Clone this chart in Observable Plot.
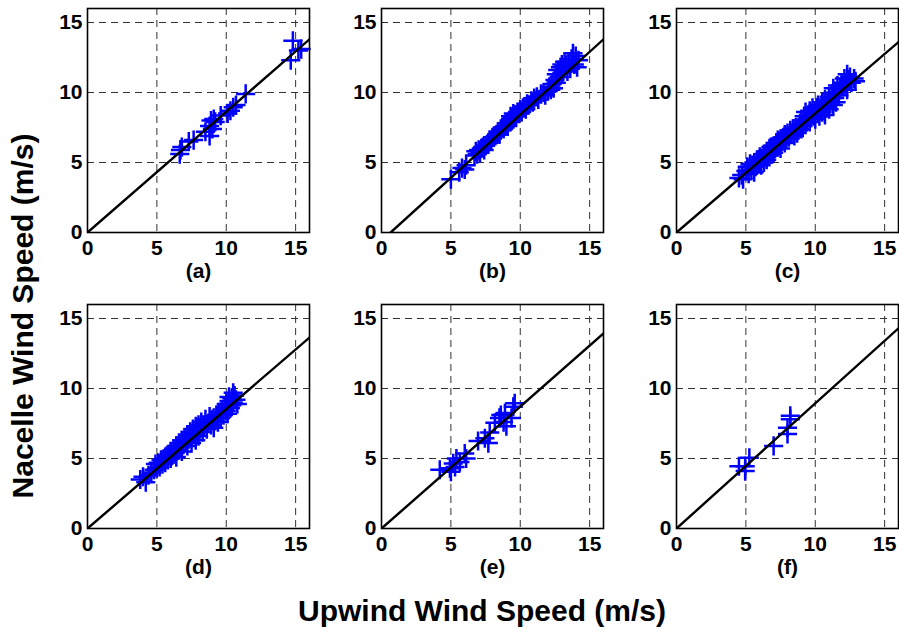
<!DOCTYPE html>
<html>
<head>
<meta charset="utf-8">
<script src="https://cdn.jsdelivr.net/npm/d3@7"></script>
<script src="https://cdn.jsdelivr.net/npm/@observablehq/plot@0.6"></script>
<style>
  html, body { margin: 0; padding: 0; background: #fff; overflow: hidden; }
  #wrap { position: relative; width: 899px; height: 632px; background: #fff; font-family: "Liberation Sans", Arial, sans-serif; }
  .panel { position: absolute; }
  #wrap svg text { font-weight: bold; font-family: "Liberation Sans", Arial, sans-serif; fill: #000; }
  .title { position: absolute; font-weight: bold; font-size: 30px; line-height: 30px; white-space: nowrap; color: #000; }
</style>
</head>
<body>
<div id="wrap"></div>
<script>
// ---- data ----
const panelLabels = ["(a)", "(b)", "(c)", "(d)", "(e)", "(f)"];
const axisTicks = [0, 5, 10, 15];
const gridTicks = [5, 10, 15];
const xTitle = "Upwind Wind Speed (m/s)";
const yTitle = "Nacelle Wind Speed (m/s)";

const pointsA = [[14.8,13.7],[14.65,12.3],[15.2,13.0],[15.4,13.1],[11.4,9.9],[10.5,8.95],[10.3,8.7],[10.1,8.5],
  [9.6,8.35],[9.1,8.1],[8.9,8.0],[8.8,7.6],[8.5,7.2],[8.8,6.9],[9.0,7.4],[7.65,6.6],[7.3,6.5],[6.8,6.1],[6.65,5.6],[6.7,5.9],[9.2,7.9],[10.7,9.1]];

const pointsB = [[5.0,3.8],[5.6,4.3],[5.8,4.6],[6.0,4.5],[6.1,4.8],[6.7,5.5],[6.8,5.8],[6.9,5.6],[7.0,5.9],[7.1,5.7],
  [7.2,6.0],[7.3,6.1],[7.4,5.9],[7.5,6.2],[7.7,6.4],[7.8,6.6],[7.9,6.5],[8.0,6.8],[8.2,6.9],[8.3,7.0],[8.4,7.2],[8.5,7.0],
  [8.6,7.3],[8.7,7.5],[8.8,7.4],[8.9,7.6],[9.0,7.8],[9.1,7.6],[9.2,8.0],[9.3,7.9],[9.4,8.2],[9.5,8.1],[9.6,8.4],[9.7,8.3],
  [9.8,8.6],[9.9,8.5],[10.0,8.8],[10.1,8.6],[10.2,8.9],[10.3,9.0],[10.4,8.8],[10.5,9.2],[10.6,9.1],[10.8,9.4],[10.9,9.3],
  [11.0,9.6],[11.2,9.7],[11.3,9.5],[11.5,9.9],[11.7,10.0],[11.8,9.8],[12.0,10.1],[12.1,10.4],[12.2,10.2],[12.3,10.6],
  [12.4,10.3],[12.5,10.9],[12.6,11.3],[12.6,10.7],[12.7,11.6],[12.8,11.1],[12.9,11.8],[13.0,11.4],[13.0,12.0],[13.1,11.6],
  [13.2,12.2],[13.3,11.9],[13.4,11.5],[13.5,12.1],[13.6,11.7],[13.7,12.4],[13.8,12.8],[13.9,12.0],[14.0,12.6],[14.1,11.8],
  [14.2,12.3],[9.5,8.5],[9.3,8.3]];

const pointsC = [[4.5,3.9],[4.7,4.1],[4.8,3.8],[5.0,4.4],[5.1,4.7],[5.2,4.2],[5.3,4.9],[5.4,4.5],[5.5,4.8],[5.6,4.3],[5.6,5.0],
  [5.7,4.7],[5.8,5.2],[5.9,4.9],[6.0,5.1],[6.0,5.4],[6.1,4.8],[6.2,5.3],[6.3,5.6],[6.3,5.0],[6.4,5.4],[6.5,5.8],[6.5,5.2],
  [6.6,5.5],[6.7,5.9],[6.8,5.6],[6.8,6.1],[6.9,5.8],[7.0,6.2],[7.0,5.7],[7.1,6.0],[7.2,6.4],[7.3,6.1],[7.3,6.6],[7.4,6.3],
  [7.5,6.7],[7.5,6.0],[7.6,6.5],[7.7,6.8],[7.8,6.4],[7.8,7.0],[7.9,6.7],[8.0,7.1],[8.1,6.8],[8.2,7.3],[8.3,7.0],[8.4,7.4],
  [8.5,6.9],[8.5,7.2],[8.6,7.5],[8.7,7.1],[8.8,7.3],[8.9,7.7],[9.0,7.4],[9.0,8.0],[9.1,7.6],[9.2,8.3],[9.3,7.8],[9.3,8.6],
  [9.4,8.1],[9.5,8.4],[9.6,7.9],[9.6,8.7],[9.7,8.2],[9.8,8.5],[9.8,8.9],[9.9,8.3],[10.0,8.7],[10.0,8.1],[10.1,8.9],[10.2,8.5],
  [10.2,9.1],[10.3,8.3],[10.4,8.8],[10.5,9.3],[10.5,8.6],[10.6,9.0],[10.7,8.4],[10.7,9.5],[10.8,8.9],[10.9,9.2],[11.0,9.7],
  [11.0,8.8],[11.1,9.4],[11.2,9.9],[11.3,9.1],[11.3,10.3],[11.4,9.6],[11.5,10.0],[11.5,9.3],[11.6,10.5],[11.7,9.8],[11.8,10.2],
  [11.9,10.7],[12.0,10.4],[12.1,11.0],[12.2,10.6],[12.3,11.3],[12.4,10.9],[12.5,11.1],[12.6,10.7],[12.8,11.0],[12.9,10.8],[12.3,10.2]];

const pointsD = [[3.8,3.5],[4.0,3.7],[4.2,3.3],[4.4,3.8],[4.6,4.0],[4.8,4.2],[4.9,4.6],[5.0,4.3],[5.1,4.7],[5.2,4.4],[5.3,4.9],
  [5.4,4.6],[5.5,5.0],[5.6,4.7],[5.7,5.2],[5.8,4.9],[5.9,5.3],[6.0,5.0],[6.0,5.5],[6.1,5.2],[6.2,5.7],[6.3,5.4],[6.4,5.9],
  [6.4,5.1],[6.5,5.6],[6.6,6.1],[6.7,5.8],[6.8,6.3],[6.8,5.5],[6.9,6.0],[7.0,6.5],[7.1,6.2],[7.2,5.9],[7.2,6.7],[7.3,6.4],
  [7.4,6.9],[7.5,6.1],[7.5,6.6],[7.6,7.1],[7.7,6.8],[7.8,6.3],[7.8,7.3],[7.9,6.9],[8.0,6.6],[8.0,7.4],[8.1,7.1],[8.2,7.6],
  [8.3,6.9],[8.4,7.3],[8.5,7.8],[8.6,7.1],[8.7,7.5],[8.8,8.0],[8.9,7.4],[9.0,7.8],[9.1,7.2],[9.2,7.7],[9.3,8.1],[9.4,7.6],
  [9.5,8.3],[9.6,7.9],[9.7,8.5],[9.8,8.1],[9.9,8.7],[10.0,8.4],[10.0,8.9],[10.1,8.2],[10.2,9.1],[10.3,8.6],[10.4,9.3],
  [10.4,8.8],[10.5,9.0],[10.6,9.5],[10.7,9.2],[10.8,8.9],[10.2,9.4],[10.5,9.7]];

const pointsE = [[4.2,4.2],[4.93,4.3],[5.17,4.65],[5.4,5.0],[5.0,4.05],[6.0,5.35],[6.1,5.0],[5.65,4.75],[6.96,6.25],[7.45,6.45],
  [7.7,6.1],[7.8,6.85],[8.17,7.55],[8.5,7.9],[8.9,8.25],[8.8,7.6],[9.0,7.3],[9.37,7.9],[9.6,8.95],[9.5,8.7],[5.3,4.4],[8.6,8.1]];

const pointsF = [[4.5,4.45],[4.95,4.45],[4.95,4.1],[5.25,5.05],[7.0,5.9],[8.0,6.75],[8.0,7.2],[8.2,7.8],[8.2,8.05]];

// fitted lines: start and end points [x, y]
const fitA = [[0, 0], [16, 13.8]];
const fitB = [[0.66, 0], [16, 13.8]];
const fitC = [[0, 0], [16, 13.6]];
const fitD = [[0, 0], [16, 13.64]];
const fitE = [[0, 0], [16, 13.93]];
const fitF = [[0, 0], [16, 14.3]];

const allPoints = [pointsA, pointsB, pointsC, pointsD, pointsE, pointsF];
const allFits = [fitA, fitB, fitC, fitD, fitE, fitF];

// ---- layout ----
const panelLeft = [87, 381, 676];
const panelTop = [8, 304];
const mL = 40, mR = 4, mT = 4, mB = 56, pw = 222, ph = 224;

const wrap = document.getElementById("wrap");

for (let i = 0; i < 6; i++) {
  const col = i % 3, row = Math.floor(i / 3);
  const chart = Plot.plot({
    width: pw + mL + mR,
    height: ph + mT + mB,
    marginLeft: mL, marginRight: mR, marginTop: mT, marginBottom: mB,
    x: { domain: [0, 16] },
    y: { domain: [0, 16] },
    style: { fontFamily: "'Liberation Sans', Arial, sans-serif", fontSize: "21px", fontWeight: "bold", color: "#000", background: "transparent", overflow: "visible" },
    marks: [
      Plot.gridX(gridTicks, { stroke: "#333", strokeOpacity: 1, strokeWidth: 1, strokeDasharray: "7,5" }),
      Plot.gridY(gridTicks, { stroke: "#333", strokeOpacity: 1, strokeWidth: 1, strokeDasharray: "7,5" }),
      Plot.axisX(axisTicks, { tickSize: 0, tickPadding: 8, label: null, fontSize: 21 }),
      Plot.axisY(axisTicks, { tickSize: 0, tickPadding: 5, label: null, fontSize: 21 }),
      Plot.dot(allPoints[i], { x: d => d[0], y: d => d[1], symbol: "plus", r: 6.2, stroke: "#0000ff", strokeWidth: 2.5 }),
      Plot.line(allFits[i], { x: d => d[0], y: d => d[1], stroke: "#000", strokeWidth: 2.4, clip: true }),
      Plot.frame({ stroke: "#000", strokeWidth: 1.6 }),
      Plot.text([panelLabels[i]], { text: d => d, frameAnchor: "bottom", dy: 45, fontSize: 21, fill: "#000" })
    ]
  });
  chart.classList.add("panel");
  chart.style.left = (panelLeft[col] - mL) + "px";
  chart.style.top = (panelTop[row] - mT) + "px";
  wrap.appendChild(chart);
}

const xt = document.createElement("div");
xt.className = "title";
xt.textContent = xTitle;
xt.style.left = "482px";
xt.style.top = "596px";
xt.style.transform = "translateX(-50%)";
wrap.appendChild(xt);

const yt = document.createElement("div");
yt.className = "title";
yt.textContent = yTitle;
yt.style.left = "23px";
yt.style.top = "316px";
yt.style.transform = "translate(-50%, -50%) rotate(-90deg)";
wrap.appendChild(yt);
</script>
</body>
</html>
